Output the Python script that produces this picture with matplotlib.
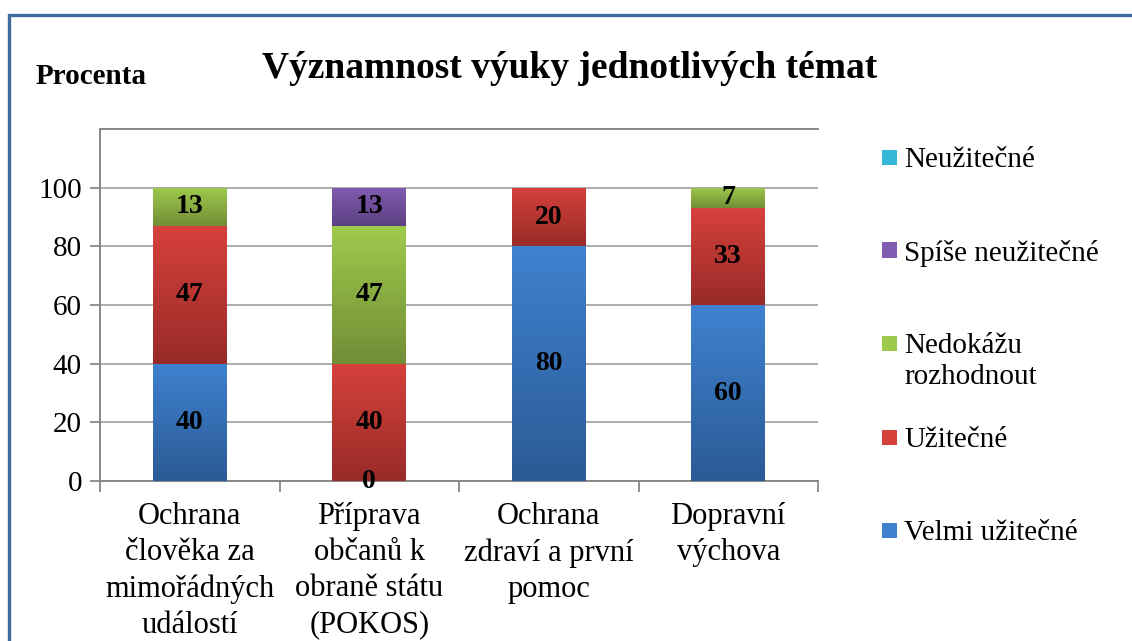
import numpy as np
import matplotlib
matplotlib.use('Agg')
import matplotlib.pyplot as plt
from matplotlib.colors import LinearSegmentedColormap
from matplotlib.patches import Rectangle
from matplotlib.lines import Line2D

plt.rcParams['font.family'] = ['Liberation Serif', 'DejaVu Serif']

categories = ['Ochrana\nčlověka za\nmimořádných\nudálostí',
              'Příprava\nobčanů k\nobraně státu\n(POKOS)',
              'Ochrana\nzdraví a první\npomoc',
              'Dopravní\nvýchova']
series = ['Velmi užitečné', 'Užitečné', 'Nedokážu\nrozhodnout',
          'Spíše neužitečné', 'Neužitečné']
# nan = empty cell (no label), 0 = real zero (label shown)
velmi = [40, 0, 80, 60]
uzitecne = [47, 40, 20, 33]
nedokazu = [13, 47, np.nan, 7]
spise = [np.nan, 13, np.nan, np.nan]
neuzitecne = [np.nan, np.nan, np.nan, np.nan]
values = [velmi, uzitecne, nedokazu, spise, neuzitecne]
yticks = [0, 20, 40, 60, 80, 100]

# gradient top / bottom colours (Excel look)
grad = [('#3F81CF', '#2B5B96'),
        ('#D6413C', '#992B28'),
        ('#9ECA4B', '#728E37'),
        ('#805CB0', '#5C4181'),
        ('#35B7D7', '#2388A4')]

W, H = 1132, 641
fig = plt.figure(figsize=(W/100, H/100), dpi=100)
ax = fig.add_axes([100/W, 1-481/H, 718/W, 352/H])

x = np.arange(len(categories))
w = 0.41
bottom = np.zeros(len(categories))
for k, vals in enumerate(values):
    v = np.array(vals, dtype=float)
    h = np.nan_to_num(v)
    bars = ax.bar(x, h, w, bottom=bottom, color=grad[k][1], linewidth=0, zorder=3)
    cmap = LinearSegmentedColormap.from_list('g%d' % k, [grad[k][1], grad[k][0]])
    for i, b in enumerate(bars):
        if h[i] > 0:
            img = ax.imshow(np.linspace(0, 1, 64).reshape(-1, 1), cmap=cmap,
                            origin='lower', aspect='auto', zorder=3,
                            extent=[b.get_x(), b.get_x()+w, bottom[i], bottom[i]+h[i]])
            img.set_clip_path(b)
        if not np.isnan(v[i]):
            ax.text(x[i], bottom[i]+h[i]/2, '%d' % v[i], ha='center', va='center',
                    fontsize=20, fontweight='bold', zorder=5)
    bottom += h

ax.set_xlim(-0.5, 3.5)
ax.set_ylim(0, 120)
ax.set_yticks(yticks)
ax.set_yticklabels([str(t) for t in yticks], fontsize=21)
ax.set_xticks(x)
ax.set_xticklabels(categories, fontsize=22, linespacing=1.33, va='top')
ax.set_xticks(np.arange(-0.5, 4, 1), minor=True)
ax.tick_params(axis='x', which='major', length=0, pad=15)
ax.tick_params(axis='x', which='minor', length=8, width=1.3, color='#888888', direction='out')
ax.tick_params(axis='y', length=7, width=1.3, color='#888888', direction='out', pad=6)
ax.grid(axis='y', color='#A6A6A6', linewidth=1.3, zorder=0)
for s in ['left', 'bottom', 'top']:
    ax.spines[s].set_color('#888888')
    ax.spines[s].set_linewidth(1.4)
ax.spines['right'].set_visible(False)

# legend, Excel-like: reversed order, fixed slots on the right
leg_y = [157, 250, 343, 437, 530]  # pixel rows from top
for j, k in enumerate(range(len(series))[::-1]):
    yc = leg_y[j]
    fig.add_artist(Rectangle((882/W, 1-(yc+7.5)/H), 15/W, 15/H, transform=fig.transFigure,
                             facecolor=grad[k][0], edgecolor='none'))
    fig.text(904/W, 1-(yc-10)/H, series[k], ha='left', va='top', fontsize=21,
             linespacing=1.25)

fig.text(570/W, 1-68/H, 'Významnost výuky jednotlivých témat', ha='center', va='center',
         fontsize=27, fontweight='bold')
fig.text(36/W, 1-77/H, 'Procenta', ha='left', va='center', fontsize=21, fontweight='bold')

# outer frame
fig.add_artist(Line2D([9/W, 9/W, 1.0], [0, 1-15/H, 1-15/H], transform=fig.transFigure,
                      color='#3E6A9F', linewidth=2.4, solid_joinstyle='miter'))

fig.savefig('out.png', dpi=100)
